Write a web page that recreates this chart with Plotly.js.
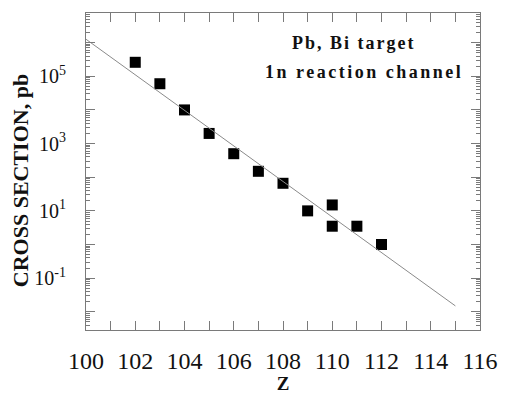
<!DOCTYPE html>
<html>
<head>
<meta charset="utf-8">
<script src="https://cdn.plot.ly/plotly-3.0.1.min.js"></script>
<style>html,body{margin:0;padding:0;background:#fff;}#chart{width:505px;height:394px;}</style>
</head>
<body>
<div id="chart"></div>
<script>
// Data
const zValues = [102, 103, 104, 105, 106, 107, 108, 109, 110, 110, 111, 112];
const sigmaValues = [2.6e5, 6e4, 1e4, 2e3, 500, 150, 66, 10, 15, 3.5, 3.5, 1];
const fitZ = [100, 115];
const fitSigma = [1.26e6, 0.015];
const yLabelExponents = [-1, 1, 3, 5];
const yTickLabels = ['10<sup>-1</sup>', '10<sup>1</sup>', '10<sup>3</sup>', '10<sup>5</sup>'];
const yUnlabelledExponents = [-2, 0, 2, 4, 6];
const xTickValues = [100, 102, 104, 106, 108, 110, 112, 114, 116];
const xTickLabels = ['100', '102', '104', '106', '108', '110', '112', '114', '116'];
const annotationLines = ['Pb, Bi target', '1n reaction channel'];
const xTitle = 'Z';
const yTitle = 'CROSS SECTION, pb';

const yTickVals = yLabelExponents.map(e => Math.pow(10, e));
const yPlainVals = yUnlabelledExponents.map(e => Math.pow(10, e));
const yMinorVals = [];
for (let e = -3; e <= 7; e++) {
  for (let m = 2; m <= 9; m++) yMinorVals.push(m * Math.pow(10, e));
}

const frameColor = '#7a7a7a';
const serif = 'Liberation Serif';
const yRange = [-2.54, 6.88];

const traces = [
  {
    x: fitZ, y: fitSigma, mode: 'lines', type: 'scatter', yaxis: 'y2',
    line: {color: '#8a8a8a', width: 1}, hoverinfo: 'skip', showlegend: false
  },
  {
    x: zValues, y: sigmaValues, mode: 'markers', type: 'scatter',
    marker: {symbol: 'square', size: 11, color: '#000'}, showlegend: false
  }
];

const layout = {
  width: 505, height: 394,
  margin: {l: 86, r: 25, t: 13, b: 64},
  paper_bgcolor: '#fff', plot_bgcolor: '#fff',
  showlegend: false,
  font: {family: serif},
  xaxis: {
    range: [100, 116],
    tickmode: 'array', tickvals: xTickValues, ticktext: xTickLabels,
    ticks: 'inside', ticklen: 9, tickwidth: 1, tickcolor: frameColor,
    minor: {dtick: 1, tick0: 100, ticks: 'inside', ticklen: 4, tickcolor: frameColor, showgrid: false},
    showline: true, linecolor: frameColor, linewidth: 1, mirror: 'allticks',
    showgrid: false, zeroline: false,
    tickfont: {family: serif, size: 24, color: '#111'},
    ticklabelstandoff: 9,
    title: {text: '<b>' + xTitle + '</b>', font: {family: serif, size: 19, color: '#111'}, standoff: 13}
  },
  yaxis: {
    type: 'log', range: yRange,
    tickmode: 'array', tickvals: yTickVals, ticktext: yTickLabels,
    ticks: 'inside', ticklen: 9, tickwidth: 1, tickcolor: frameColor,
    minor: {tickmode: 'array', tickvals: yMinorVals, ticks: 'inside', ticklen: 4, tickcolor: frameColor, showgrid: false},
    showline: true, linecolor: frameColor, linewidth: 1, mirror: 'allticks',
    showgrid: false, zeroline: false,
    tickfont: {family: serif, size: 20, color: '#111'},
    ticklabelstandoff: 15
  },
  yaxis2: {
    type: 'log', range: yRange, overlaying: 'y', side: 'left',
    tickmode: 'array', tickvals: yPlainVals,
    ticks: 'inside', ticklen: 9, tickwidth: 1, tickcolor: frameColor,
    showticklabels: false, showline: false, mirror: 'allticks',
    showgrid: false, zeroline: false
  },
  annotations: [
    {
      xref: 'paper', yref: 'paper', x: -0.167, y: 0.47, xanchor: 'center', yanchor: 'middle',
      textangle: -90, text: '<b>' + yTitle + '</b>',
      showarrow: false, font: {family: serif, size: 22, color: '#111'}
    },
    {
      xref: 'paper', yref: 'paper', x: 0.678, y: 0.905, xanchor: 'center', yanchor: 'middle',
      text: '<b><span style="letter-spacing:2px">' + annotationLines[0] + '</span></b>',
      showarrow: false, font: {family: serif, size: 18, color: '#111'}
    },
    {
      xref: 'paper', yref: 'paper', x: 0.706, y: 0.814, xanchor: 'center', yanchor: 'middle',
      text: '<b><span style="letter-spacing:2.5px">' + annotationLines[1] + '</span></b>',
      showarrow: false, font: {family: serif, size: 18, color: '#111'}
    }
  ]
};

Plotly.newPlot('chart', traces, layout, {staticPlot: true, displayModeBar: false});
</script>
</body>
</html>
